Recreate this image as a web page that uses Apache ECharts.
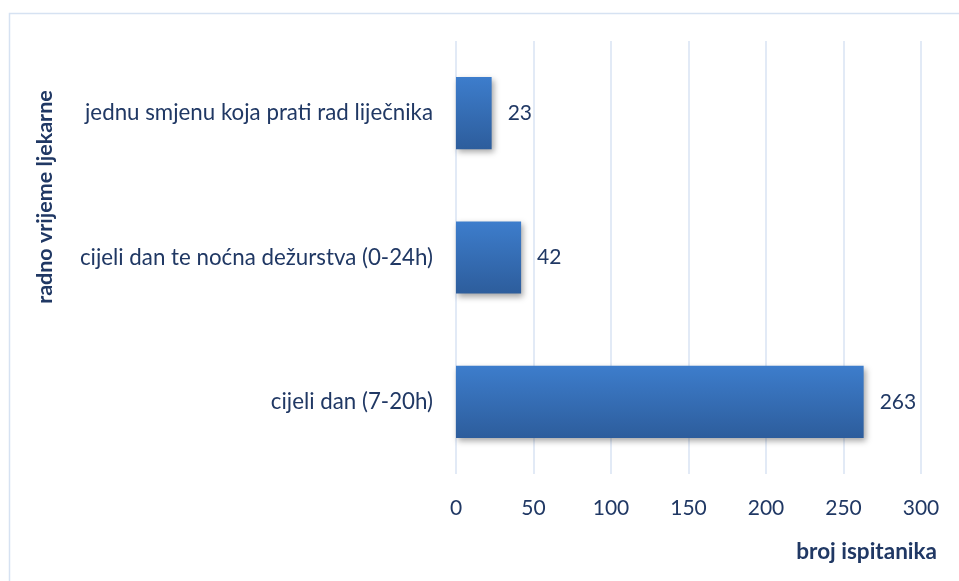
<!DOCTYPE html>
<html><head><meta charset="utf-8">
<script src="https://cdn.jsdelivr.net/npm/echarts@6/dist/echarts.min.js"></script>
<style>html,body{margin:0;padding:0;background:#fff}#c{width:959px;height:581px}</style>
</head><body><div id="c"></div>
<script>
const categories = ['cijeli dan (7-20h)', 'cijeli dan te noćna dežurstva (0-24h)', 'jednu smjenu koja prati rad liječnika'];
const values = [263, 42, 23];
const xTicks = [0, 50, 100, 150, 200, 250, 300];
const xName = 'broj ispitanika';
const yName = 'radno vrijeme ljekarne';

const txt = '#203864';
const font = 'Lato';
const chart = echarts.init(document.getElementById('c'));
chart.setOption({
  animation: false,
  graphic: [
    {type:'rect', shape:{x:9.5,y:13.5,width:970,height:600}, style:{fill:'none', stroke:'#d6e2f2', lineWidth:1.5}, z:-1},
    {type:'text', x:45, y:197, rotation:Math.PI/2, style:{text:yName, fill:txt, font:'bold 21.5px Lato', align:'center', verticalAlign:'middle'}},
    {type:'text', x:937, y:552, style:{text:xName, fill:txt, font:'bold 22.5px Lato', align:'right', verticalAlign:'middle'}}
  ],
  grid: {left:456, right:38, top:41, bottom:107, containLabel:false},
  xAxis: {
    type:'value', min:xTicks[0], max:xTicks[xTicks.length-1], interval:50,
    axisLine:{show:false}, axisTick:{show:false},
    axisLabel:{color:txt, fontFamily:font, fontSize:21, margin:24},
    splitLine:{lineStyle:{color:'#d9e3f3', width:1.5}}
  },
  yAxis: {
    type:'category', data:categories,
    axisLine:{show:false}, axisTick:{show:false},
    axisLabel:{color:txt, fontFamily:font, fontSize:22.3, margin:23}
  },
  series: [{
    type:'bar', data:values, barWidth:'50%',
    itemStyle:{
      color:new echarts.graphic.LinearGradient(0,0,0,1,[{offset:0,color:'#3d7dcc'},{offset:1,color:'#2d5d9c'}]),
      shadowColor:'rgba(0,0,0,0.35)', shadowBlur:6, shadowOffsetX:2, shadowOffsetY:3
    },
    label:{show:true, position:'right', distance:16, color:txt, fontFamily:font, fontSize:21}
  }]
});
</script></body></html>
